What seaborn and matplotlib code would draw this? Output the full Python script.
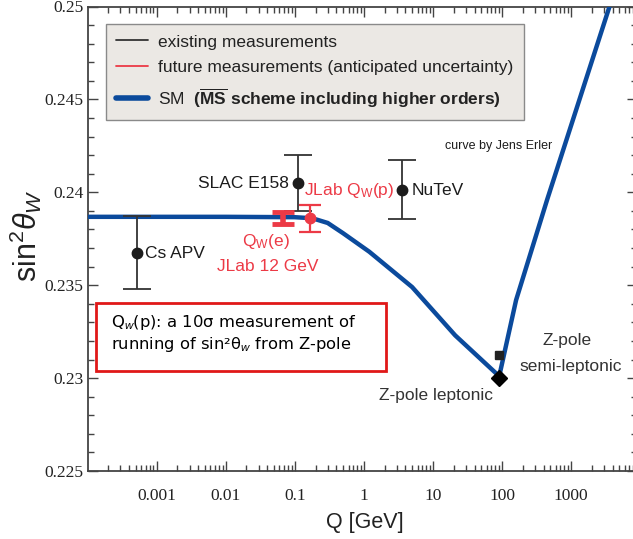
import numpy as np
import pandas as pd
import matplotlib
matplotlib.use("Agg")
import matplotlib.pyplot as plt
import seaborn as sns
from matplotlib.lines import Line2D
from matplotlib.patches import Rectangle
from matplotlib.ticker import FixedLocator, FixedFormatter, MultipleLocator, LogLocator, NullFormatter

# ---------------- data ----------------
# Standard-Model running of sin^2(theta_W) (MS-bar)
sm_q = [1e-4, 1e-3, 1e-2, 0.1, 0.15, 0.2, 0.3, 0.5, 1.2, 5.0, 21.0, 91.19, 160.0, 450.0, 3600.0, 9000.0]
sm_s2w = [0.23868, 0.23868, 0.23868, 0.23866, 0.23862, 0.23855, 0.23835, 0.2378, 0.2368, 0.2349, 0.2323, 0.2301, 0.2342, 0.2396, 0.2500, 0.2546]

# existing measurements
exist_names = ["Cs APV", "SLAC E158", "NuTeV"]
exist_q = [5.2e-4, 0.113, 3.6]
exist_s2w = [0.23675, 0.2405, 0.24014]
exist_err = [0.00197, 0.0015, 0.0016]

# future measurements
fut_names = ["Qw(e)", "JLab Qw(p)"]
fut_q = [0.0687, 0.169]
fut_s2w = [0.23862, 0.23860]
fut_err = [0.0003, 0.00073]

# Z-pole points
zpole_names = ["Z-pole leptonic", "Z-pole semi-leptonic"]
zpole_q = [91.19, 91.19]
zpole_s2w = [0.2300, 0.23125]

xtick_vals = [0.001, 0.01, 0.1, 1, 10, 100, 1000]
xtick_labels = ["0.001", "0.01", "0.1", "1", "10", "100", "1000"]
ytick_vals = [0.225, 0.23, 0.235, 0.24, 0.245, 0.25]
ytick_labels = ["0.225", "0.23", "0.235", "0.24", "0.245", "0.25"]

# ---------------- style ----------------
sns.set_theme(style="ticks")
plt.rcParams["font.family"] = ["Liberation Sans", "DejaVu Sans"]
plt.rcParams["mathtext.fontset"] = "custom"
plt.rcParams["mathtext.rm"] = "Liberation Sans"
plt.rcParams["mathtext.it"] = "Liberation Sans:italic"
plt.rcParams["mathtext.bf"] = "Liberation Sans:bold"

BLUE = "#0b4a9c"
RED = "#ec3a46"
DARK = "#1c1c1c"
GRAY = "#333333"

fig = plt.figure(figsize=(6.33, 5.39), dpi=100)
ax = fig.add_axes([87.5 / 633, 1 - 471 / 539, (637 - 87.5) / 633, (471 - 6.5) / 539])

sm_df = pd.DataFrame({"Q": sm_q, "s2w": sm_s2w})
sns.lineplot(data=sm_df, x="Q", y="s2w", ax=ax, color=BLUE, lw=3.2, sort=False,
             estimator=None, zorder=3, solid_joinstyle="miter")

# existing measurements
ax.errorbar(exist_q, exist_s2w, yerr=exist_err, fmt="o", color=DARK, ecolor=GRAY,
            elinewidth=1.3, capsize=10, capthick=1.3, ms=7.5, zorder=5)

# future: Qw(e) (hourglass-like thick bar) and JLab Qw(p)
ax.errorbar([fut_q[0]], [fut_s2w[0]], yerr=[fut_err[0]], fmt="none", ecolor=RED,
            elinewidth=4, capsize=8, capthick=3.5, zorder=6)
ax.errorbar([fut_q[1]], [fut_s2w[1]], yerr=[fut_err[1]], fmt="o", color=RED, ecolor=RED,
            elinewidth=1.6, capsize=8, capthick=1.6, ms=7.5, zorder=6)

# Z-pole points
ax.plot([zpole_q[0]], [zpole_s2w[0]], marker="D", color="black", ms=8, ls="none", zorder=7)
ax.plot([zpole_q[1]], [zpole_s2w[1]], marker="s", color="#222222", ms=6, ls="none", zorder=7)

ax.set_xscale("log")
ax.set_xlim(1e-4, 9000)
ax.set_ylim(0.225, 0.25)

ax.xaxis.set_major_locator(FixedLocator(xtick_vals))
ax.xaxis.set_major_formatter(FixedFormatter(xtick_labels))
ax.xaxis.set_minor_locator(LogLocator(base=10, subs=np.arange(2, 10), numticks=20))
ax.xaxis.set_minor_formatter(NullFormatter())
ax.yaxis.set_major_locator(FixedLocator(ytick_vals))
ax.yaxis.set_major_formatter(FixedFormatter(ytick_labels))
ax.yaxis.set_minor_locator(MultipleLocator(0.001))

for lab in ax.get_xticklabels() + ax.get_yticklabels():
    lab.set_family("Liberation Serif")
    lab.set_fontsize(12.5)
    lab.set_color("#222222")

ax.tick_params(which="both", direction="in", top=True, right=True, colors="#444444",
               labelcolor="#222222", width=1.0)
ax.tick_params(which="major", length=7)
ax.tick_params(which="minor", length=4)
ax.tick_params(axis="x", which="major", pad=12)
ax.tick_params(axis="y", which="major", pad=3)
for sp in ax.spines.values():
    sp.set_color("#444444")
    sp.set_linewidth(1.3)

ax.set_xlabel("Q [GeV]", fontsize=15.5, color="#222222")
ax.xaxis.set_label_coords((365 - 87.5) / 549.5, (471 - 512) / 464.5)
ax.set_ylabel(r"sin$^{2}\theta_{W}$", fontsize=22, color="#222222")
ax.yaxis.set_label_coords((44 - 87.5) / 549.5, (471 - 236) / 464.5)

# annotations
ax.text(6.8e-4, 0.23673, "Cs APV", fontsize=12.5, color=DARK, va="center", ha="left")
ax.text(0.081, 0.24050, "SLAC E158", fontsize=12.5, color=DARK, va="center", ha="right")
ax.text(4.9, 0.24012, "NuTeV", fontsize=12.5, color=DARK, va="center", ha="left")
ax.text(0.135, 0.24012, r"JLab Q$_{\mathrm{W}}$(p)", fontsize=12.5, color=RED, va="center", ha="left")
ax.text(0.038, 0.23733, r"Q$_{\mathrm{W}}$(e)", fontsize=12.5, color=RED, va="center", ha="center")
ax.text(0.0407, 0.23603, "JLab 12 GeV", fontsize=12.5, color=RED, va="center", ha="center")
ax.text(15.2, 0.24249, "curve by Jens Erler", fontsize=9, color=DARK, va="center", ha="left")
ax.text(11.2, 0.22905, "Z-pole leptonic", fontsize=12.5, color="#333333", va="center", ha="center")
ax.text(881, 0.23205, "Z-pole", fontsize=12.5, color="#333333", va="center", ha="center")
ax.text(1000, 0.23060, "semi-leptonic", fontsize=12.5, color="#333333", va="center", ha="center")

# legend
handles = [
    Line2D([], [], color="#333333", lw=1.3),
    Line2D([], [], color=RED, lw=1.3),
    Line2D([], [], color=BLUE, lw=4),
]
labels = [
    "existing measurements",
    "future measurements (anticipated uncertainty)",
    r"SM  $\mathbf{(\overline{MS}\ scheme\ including\ higher\ orders)}$",
]
leg = ax.legend(handles, labels, loc="upper left", bbox_to_anchor=(106 / 633, 1 - 24 / 539),
                bbox_transform=fig.transFigure, borderaxespad=0, fontsize=12.5,
                handlelength=1.8, handletextpad=0.6, labelspacing=0.62, borderpad=0.6,
                fancybox=False, framealpha=1, facecolor="#ebe8e4", edgecolor="#8a8a8a")
leg.get_frame().set_linewidth(1.0)
for t in leg.get_texts():
    t.set_color("#222222")

# red callout box
fig.patches.append(Rectangle((96 / 633, 1 - 371 / 539), 290 / 633, 68 / 539,
                             transform=fig.transFigure, fill=True, facecolor="white",
                             edgecolor="#e01818", lw=2.0, zorder=10))
fig.text(111 / 633, 1 - 323 / 539, r"Q$_{w}$(p): a 10σ measurement of", fontsize=11.8,
         family=["DejaVu Sans"], color="black", va="center", ha="left", zorder=11)
fig.text(111 / 633, 1 - 344 / 539, r"running of sin²θ$_{w}$ from Z-pole", fontsize=11.8,
         family=["DejaVu Sans"], color="black", va="center", ha="left", zorder=11)

fig.savefig("out.png", dpi=100)
